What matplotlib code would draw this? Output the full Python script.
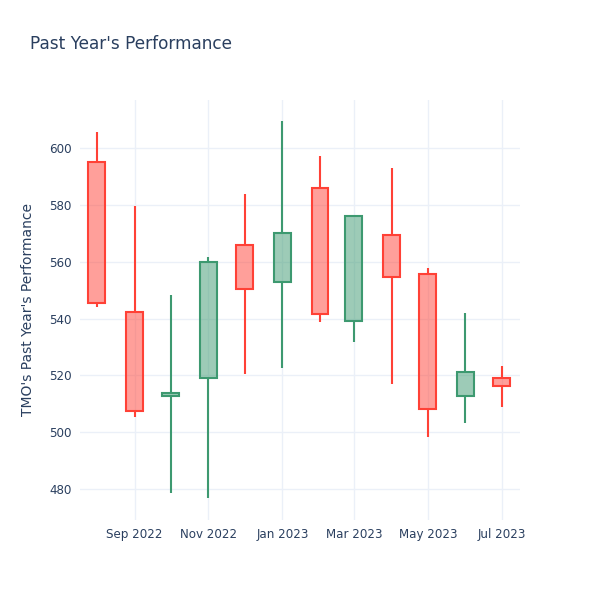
import numpy as np
import pandas as pd
import matplotlib
matplotlib.use('Agg')
import matplotlib.pyplot as plt
import matplotlib.dates as mdates

# monthly candles for TMO, Aug 2022 - Jul 2023
months = pd.date_range('2022-08-01', periods=12, freq='MS')
open_ = [595.0, 542.3, 512.8, 519.2, 565.8, 552.9, 585.8, 539.1, 569.4, 555.8, 512.8, 519.2]
high = [605.7, 579.6, 548.2, 561.5, 583.9, 609.5, 597.2, 576.3, 592.9, 557.9, 541.8, 523.3]
low = [544.2, 505.5, 478.7, 476.7, 520.5, 522.7, 538.7, 531.6, 517.0, 498.2, 503.1, 508.8]
close = [545.4, 507.4, 513.8, 559.8, 550.4, 570.0, 541.6, 576.1, 554.7, 508.2, 521.3, 516.4]

up_line = '#3D9970'
down_line = '#FF4136'
text_col = '#2a3f5f'
grid_col = '#EBF0F8'

plt.rcParams['font.family'] = ['DejaVu Sans']

fig = plt.figure(figsize=(6, 6), dpi=100)
ax = fig.add_axes([80 / 600, 80 / 600, 440 / 600, 420 / 600])

x = mdates.date2num(months)
o = np.array(open_)
c = np.array(close)
h = np.array(high)
l = np.array(low)
top = np.maximum(o, c)
bot = np.minimum(o, c)

for i in range(len(x)):
    col = up_line if c[i] >= o[i] else down_line
    ax.vlines(x[i], top[i], h[i], color=col, lw=1.5, zorder=2)
    ax.vlines(x[i], l[i], bot[i], color=col, lw=1.5, zorder=2)
    ax.bar(x[i], top[i] - bot[i], bottom=bot[i], width=14,
           color=col, alpha=0.5, edgecolor='none', zorder=3)
    ax.bar(x[i], top[i] - bot[i], bottom=bot[i], width=14,
           facecolor='none', edgecolor=col, lw=1.5, zorder=4)

ax.set_xlim(mdates.date2num(pd.Timestamp('2022-07-18')),
            mdates.date2num(pd.Timestamp('2023-07-16')))
ax.set_ylim(469.1, 616.9)
ax.set_yticks([480, 500, 520, 540, 560, 580, 600])
ax.xaxis.set_major_locator(mdates.MonthLocator(bymonth=[1, 3, 5, 7, 9, 11]))
ax.xaxis.set_major_formatter(mdates.DateFormatter('%b %Y'))

ax.grid(True, color=grid_col, lw=1)
ax.set_axisbelow(True)
for s in ax.spines.values():
    s.set_visible(False)
ax.tick_params(length=0, labelsize=8.6, labelcolor=text_col, pad=6)

ax.set_ylabel("TMO's Past Year's Performance", fontsize=10, color=text_col, labelpad=10)
fig.text(30 / 600, 1 - 44 / 600, "Past Year's Performance", fontsize=12.2,
         color=text_col, va='center', ha='left')

fig.savefig('out.png', dpi=100, facecolor='white')
